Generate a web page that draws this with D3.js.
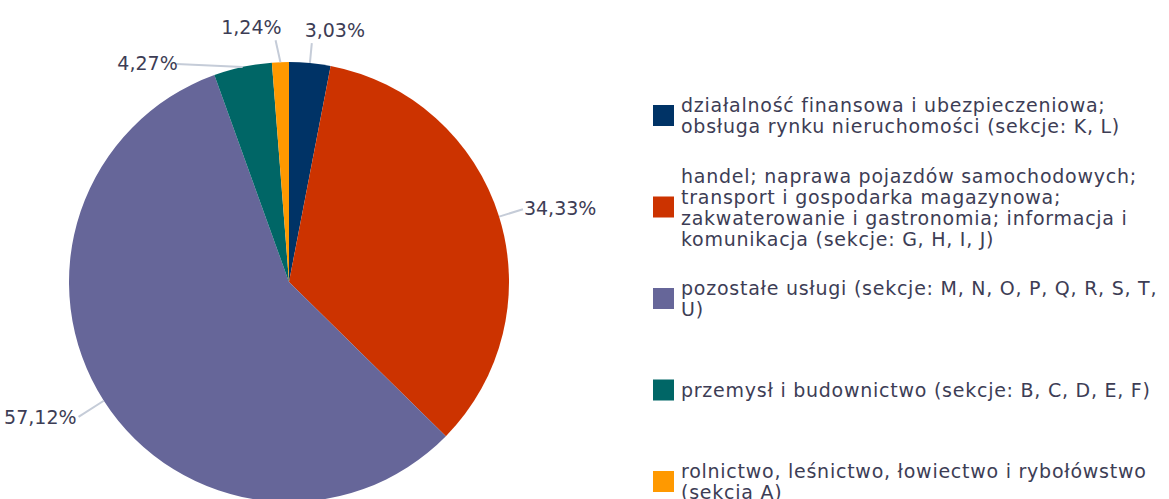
<!DOCTYPE html>
<html>
<head>
<meta charset="utf-8">
<script src="https://cdn.jsdelivr.net/npm/d3@7"></script>
<style>
  body { margin: 0; background: #fff; }
  svg { display: block; }
  text { font-family: "DejaVu Sans", sans-serif; fill: #3d3d55; }
</style>
</head>
<body>
<div class="chart"></div>
<script>
// data
const sectors = [
  ["działalność finansowa i ubezpieczeniowa;", "obsługa rynku nieruchomości (sekcje: K, L)"],
  ["handel; naprawa pojazdów samochodowych;", "transport i gospodarka magazynowa;", "zakwaterowanie i gastronomia; informacja i", "komunikacja (sekcje: G, H, I, J)"],
  ["pozostałe usługi (sekcje: M, N, O, P, Q, R, S, T,", "U)"],
  ["przemysł i budownictwo (sekcje: B, C, D, E, F)"],
  ["rolnictwo, leśnictwo, łowiectwo i rybołówstwo", "(sekcja A)"]
];
const shares = [3.03, 34.33, 57.12, 4.27, 1.24];
const colors = ["#003366", "#cc3300", "#666699", "#006666", "#ff9900"];

const width = 1169, height = 499;
const cx = 289, cy = 282, r = 220;

// label layout: leader length outward, optional manual leader end shift, text offset
const labelLayout = [
  { len: 20, shift: [0, 0], anchor: "middle", dx: 23, dy: -6 },
  { len: 25, shift: [0, 0], anchor: "start", dx: 1, dy: 6 },
  { len: 30, shift: [0, 0], anchor: "end", dx: -2, dy: 7 },
  { len: 0, shift: [-66, -3], anchor: "end", dx: 1, dy: 6 },
  { len: 22, shift: [-4, 0], anchor: "end", dx: 6, dy: -6 }
];

let svg = d3.select(".chart").append("svg")
    .attr("width", width)
    .attr("height", height);

let pie = d3.pie().sort(null).value(d => d);
let arcs = pie(shares);

let arc = d3.arc().innerRadius(0).outerRadius(r);

let g = svg.append("g").attr("transform", "translate(" + cx + "," + cy + ")");

g.selectAll("path.slice").data(arcs).enter().append("path")
    .attr("class", "slice")
    .attr("d", arc)
    .attr("fill", (d, i) => colors[i]);

function polar(angle, rad) {
    return [Math.sin(angle) * rad, -Math.cos(angle) * rad];
}

let fmt = v => d3.format(".2f")(v).replace(".", ",") + "%";

arcs.forEach(function (d, i) {
    let mid = (d.startAngle + d.endAngle) / 2;
    let lay = labelLayout[i];
    let p0 = polar(mid, r);
    let p1 = polar(mid, r + lay.len);
    p1 = [p1[0] + lay.shift[0], p1[1] + lay.shift[1]];
    g.append("line")
        .attr("x1", p0[0]).attr("y1", p0[1])
        .attr("x2", p1[0]).attr("y2", p1[1])
        .attr("stroke", "#c5ccd8")
        .attr("stroke-width", 2);
    g.append("text")
        .attr("x", p1[0] + lay.dx)
        .attr("y", p1[1] + lay.dy)
        .attr("text-anchor", lay.anchor)
        .attr("font-size", 19)
        .text(fmt(shares[i]));
});

// legend
let legendY = d3.scalePoint().domain(d3.range(sectors.length)).range([116, 482]);
let lineH = 21;

let legend = svg.selectAll("g.legend").data(sectors).enter().append("g")
    .attr("class", "legend")
    .attr("transform", (d, i) => "translate(653," + legendY(i) + ")");

legend.append("rect")
    .attr("x", 0)
    .attr("y", -11)
    .attr("width", 21)
    .attr("height", 21)
    .attr("fill", (d, i) => colors[i]);

legend.each(function (lines) {
    let t = d3.select(this).append("text")
        .attr("font-size", 19)
        .attr("letter-spacing", 0.75);
    let top = -(lines.length - 1) * lineH / 2;
    lines.forEach(function (ln, j) {
        t.append("tspan")
            .attr("x", 28)
            .attr("y", top + j * lineH)
            .attr("dy", "0.35em")
            .text(ln);
    });
});
</script>
</body>
</html>
